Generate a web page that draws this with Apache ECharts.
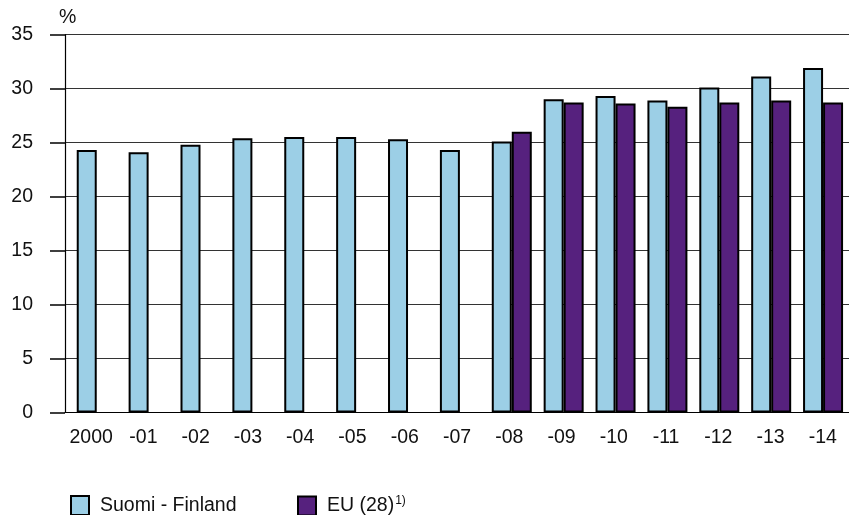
<!DOCTYPE html>
<html>
<head>
<meta charset="utf-8">
<script src="https://cdn.jsdelivr.net/npm/echarts@6/dist/echarts.min.js"></script>
<style>
html,body{margin:0;padding:0;background:#fff;}
#chart{width:849px;height:515px;}
</style>
</head>
<body>
<div id="chart"></div>
<script>
const categories = ['2000','-01','-02','-03','-04','-05','-06','-07','-08','-09','-10','-11','-12','-13','-14'];
const finland = [24.3,24.1,24.8,25.4,25.5,25.5,25.3,24.3,25.1,29.0,29.3,28.9,30.1,31.1,31.9];
const eu = ['-','-','-','-','-','-','-','-',26.0,28.7,28.6,28.3,28.7,28.9,28.7];
const yTicks = {min:0, max:35, interval:5};
const nameFI = 'Suomi - Finland';
const nameEU = 'EU (28)';

const FONT = 'Liberation Sans, Arial, Helvetica, sans-serif';
const FS = 19.5;
const chart = echarts.init(document.getElementById('chart'), null, {renderer:'canvas'});
const gridTop = 34.5, gridBottom = 102.5;
chart.setOption({
  animation:false,
  backgroundColor:'#fff',
  textStyle:{fontFamily:FONT},
  grid:[
    {left:70.8, right:-4, top:gridTop, bottom:gridBottom},
    {left:65, right:0, top:gridTop, bottom:gridBottom}
  ],
  xAxis:[
    {type:'category', gridIndex:0, data:categories, show:false},
    {type:'category', gridIndex:1, data:categories,
     axisLine:{show:true, lineStyle:{color:'#000', width:1.2}},
     axisTick:{show:false},
     axisLabel:{color:'#111', fontSize:FS, fontFamily:FONT, margin:15, interval:0}}
  ],
  yAxis:[
    {type:'value', gridIndex:0, min:yTicks.min, max:yTicks.max, interval:yTicks.interval, show:false},
    {type:'value', gridIndex:1, min:yTicks.min, max:yTicks.max, interval:yTicks.interval,
     name:'%', nameLocation:'end', nameGap:7,
     nameTextStyle:{color:'#111', fontSize:FS, fontFamily:FONT, align:'left', padding:[0,0,0,-6]},
     axisLine:{show:true, lineStyle:{color:'#000', width:1.2}},
     axisTick:{show:true, inside:false, length:15, lineStyle:{color:'#000', width:1.5}},
     axisLabel:{color:'#111', fontSize:FS, fontFamily:FONT, margin:32},
     splitLine:{show:true, lineStyle:{color:'#333', width:1.2}}}
  ],
  legend:[
    {left:65, top:490, data:[nameFI], icon:'rect', itemWidth:18, itemHeight:19,
     itemStyle:{borderColor:'#000', borderWidth:2},
     textStyle:{color:'#111', fontSize:FS, fontFamily:FONT, padding:[0,0,0,6]}},
    {left:292, top:490, data:[nameEU], icon:'rect', itemWidth:18, itemHeight:19,
     itemStyle:{borderColor:'#000', borderWidth:2},
     formatter:function(n){return '{a|'+n+'}{s|1)}';},
     textStyle:{color:'#111', fontSize:FS, fontFamily:FONT, padding:[0,0,0,6],
       rich:{a:{fontSize:FS, fontFamily:FONT, color:'#111'},
             s:{fontSize:12, fontFamily:FONT, color:'#111', verticalAlign:'top', padding:[0,0,10,1]}}}}
  ],
  series:[
    {name:nameFI, type:'bar', xAxisIndex:0, yAxisIndex:0, data:finland,
     barWidth:20, barGap:'0%',
     itemStyle:{color:'#9ccfe6', borderColor:'#000', borderWidth:2}},
    {name:nameEU, type:'bar', xAxisIndex:0, yAxisIndex:0, data:eu,
     barWidth:20, barGap:'0%',
     itemStyle:{color:'#56217e', borderColor:'#000', borderWidth:2}}
  ]
});
</script>
</body>
</html>
